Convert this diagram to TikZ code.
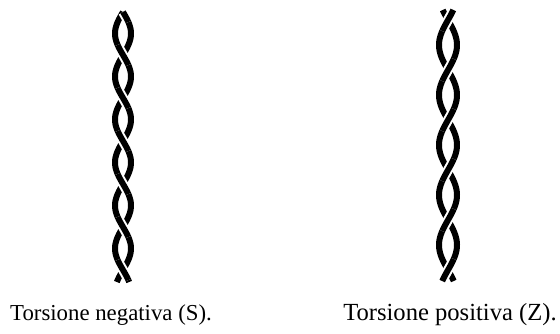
\documentclass[tikz,border=0pt]{standalone}
\usepackage{fontspec}
\setmainfont{Liberation Serif}
\begin{document}
\begin{tikzpicture}[x=1pt,y=-1pt,
    strand/.style={line width=6pt},
    over/.style={strand,preaction={draw,white,line width=10pt}},
    lbl/.style={anchor=base,font=\fontsize{22.8}{26}\selectfont}]
  \useasboundingbox (0,0) rectangle (560,333);

  % Torsione S: front strand goes down to the right
  \foreach \s in {1,-1}{
    \draw[strand] plot[domain=12:282,samples=120,smooth,variable=\t]
      ({123+\s*8*sin((\t-12)/43*180)},\t);
  }
  \foreach \k in {0,...,6}{
    \pgfmathsetmacro\ya{max(12,12+43*\k-10)}
    \pgfmathsetmacro\yb{min(282,12+43*\k+10)}
    \draw[over] plot[domain=\ya:\yb,samples=20,smooth,variable=\t]
      ({123+8*sin((\t-12-43*\k)/43*180)},\t);
  }

  % Torsione Z: front strand goes down to the left
  \foreach \s in {1,-1}{
    \draw[strand] plot[domain=10:281,samples=120,smooth,variable=\t]
      ({448+\s*9*sin((\t-20)/50*180)},\t);
  }
  \foreach \k in {0,...,5}{
    \pgfmathsetmacro\ya{max(10,20+50*\k-11)}
    \pgfmathsetmacro\yb{min(281,20+50*\k+11)}
    \draw[over] plot[domain=\ya:\yb,samples=20,smooth,variable=\t]
      ({448-9*sin((\t-20-50*\k)/50*180)},\t);
  }

  \node[lbl] (negS) at (111,320) {Torsione negativa (S).};
  \node[lbl,font=\fontsize{24.6}{28}\selectfont] (posZ) at (450,320) {Torsione positiva (Z).};
\end{tikzpicture}
\end{document}
